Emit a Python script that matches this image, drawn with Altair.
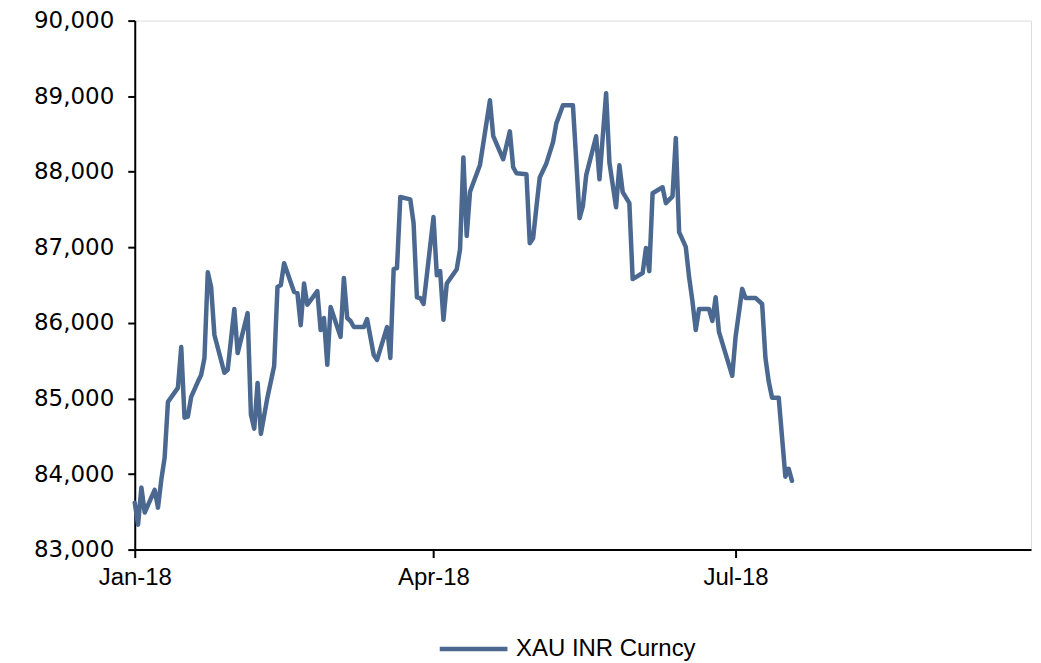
import altair as alt
import pandas as pd

dates = [
    "2018-01-01", "2018-01-02", "2018-01-03", "2018-01-04", "2018-01-07", "2018-01-08",
    "2018-01-09", "2018-01-10", "2018-01-11", "2018-01-14", "2018-01-15", "2018-01-16",
    "2018-01-17", "2018-01-18", "2018-01-20", "2018-01-21", "2018-01-22", "2018-01-23",
    "2018-01-24", "2018-01-25", "2018-01-28", "2018-01-29", "2018-01-31", "2018-02-01",
    "2018-02-04", "2018-02-05", "2018-02-06", "2018-02-07", "2018-02-08", "2018-02-10",
    "2018-02-12", "2018-02-13", "2018-02-14", "2018-02-15", "2018-02-18", "2018-02-19",
    "2018-02-20", "2018-02-21", "2018-02-22", "2018-02-25", "2018-02-26", "2018-02-27",
    "2018-02-28", "2018-03-01", "2018-03-04", "2018-03-05", "2018-03-06", "2018-03-07",
    "2018-03-08", "2018-03-11", "2018-03-12", "2018-03-14", "2018-03-15", "2018-03-18",
    "2018-03-19", "2018-03-20", "2018-03-21", "2018-03-22", "2018-03-25", "2018-03-26",
    "2018-03-27", "2018-03-28", "2018-03-29", "2018-04-01", "2018-04-02", "2018-04-03",
    "2018-04-04", "2018-04-05", "2018-04-08", "2018-04-09", "2018-04-10", "2018-04-11",
    "2018-04-12", "2018-04-15", "2018-04-18", "2018-04-19", "2018-04-22", "2018-04-24",
    "2018-04-25", "2018-04-26", "2018-04-29", "2018-04-30", "2018-05-01", "2018-05-02",
    "2018-05-03", "2018-05-05", "2018-05-07", "2018-05-08", "2018-05-10", "2018-05-13",
    "2018-05-14", "2018-05-15", "2018-05-16", "2018-05-17", "2018-05-20", "2018-05-21",
    "2018-05-23", "2018-05-24", "2018-05-26", "2018-05-27", "2018-05-28", "2018-05-30",
    "2018-05-31", "2018-06-03", "2018-06-04", "2018-06-05", "2018-06-06", "2018-06-09",
    "2018-06-10", "2018-06-12", "2018-06-13", "2018-06-14", "2018-06-16", "2018-06-17",
    "2018-06-18", "2018-06-19", "2018-06-20", "2018-06-23", "2018-06-24", "2018-06-25",
    "2018-06-26", "2018-06-30", "2018-07-01", "2018-07-03", "2018-07-04", "2018-07-07",
    "2018-07-09", "2018-07-10", "2018-07-11", "2018-07-12", "2018-07-14", "2018-07-16",
    "2018-07-17", "2018-07-18",
]

values = [
    83620, 83330, 83820, 83490, 83790, 83555,
    83925, 84215, 84955, 85140, 85680, 84745,
    84760, 85020, 85220, 85310, 85535, 86670,
    86475, 85840, 85340, 85380, 86185, 85600,
    86130, 84785, 84600, 85205, 84530, 85020,
    85430, 86475, 86500, 86790, 86410, 86395,
    85970, 86520, 86240, 86420, 85905, 86065,
    85445, 86210, 85815, 86595, 86065, 86025,
    85945, 85945, 86050, 85575, 85510, 85945,
    85535, 86710, 86725, 87665, 87635, 87320,
    86340, 86330, 86250, 87400, 86630, 86685,
    86040, 86520, 86710, 86975, 88190, 87150,
    87735, 88090, 88945, 88470, 88165, 88535,
    88060, 87980, 87967, 87055, 87120, 87530,
    87925, 88110, 88390, 88640, 88880, 88880,
    88150, 87385, 87545, 87955, 88470, 87900,
    89040, 88120, 87530, 88085, 87730, 87585,
    86580, 86660, 86990, 86685, 87715, 87795,
    87585, 87675, 88445, 87200, 87005, 86605,
    86290, 85905, 86185, 86185, 86025, 86340,
    85880, 85300, 85815, 86450, 86330, 86330,
    86250, 85535, 85220, 85010, 85010, 83965,
    84070, 83910,
]

series_name = "XAU INR Curncy"
x_tick_dates = ["2018-01-01", "2018-04-01", "2018-07-01"]
x_domain = ["2018-01-01", "2018-09-28"]
y_ticks = [83000, 84000, 85000, 86000, 87000, 88000, 89000, 90000]

df = pd.DataFrame({"date": dates, "value": values, "series": series_name})

line_color = "#4a6890"

x_tick_values = [
    alt.DateTime(year=int(d[:4]), month=int(d[5:7]), date=int(d[8:10])) for d in x_tick_dates
]

chart = (
    alt.Chart(df)
    .mark_line(strokeWidth=4.5, strokeJoin="round", strokeCap="round")
    .encode(
        x=alt.X(
            "date:T",
            scale=alt.Scale(domain=x_domain),
            axis=alt.Axis(
                title=None,
                values=x_tick_values,
                format="%b-%y",
                grid=False,
                domainColor="black",
                domainWidth=2,
                tickColor="black",
                tickWidth=2,
                tickSize=8,
                labelFont="Liberation Sans",
                labelFontSize=24,
                labelColor="black",
                labelPadding=8,
                labelFlush=False,
            ),
        ),
        y=alt.Y(
            "value:Q",
            scale=alt.Scale(domain=[83000, 90000], nice=False, zero=False),
            axis=alt.Axis(
                title=None,
                values=y_ticks,
                format=",d",
                grid=False,
                domainColor="black",
                domainWidth=2,
                tickColor="black",
                tickWidth=2,
                tickSize=7,
                labelFont="DejaVu Sans",
                labelFontSize=23,
                labelColor="black",
                labelPadding=14,
            ),
        ),
        color=alt.Color(
            "series:N",
            scale=alt.Scale(range=[line_color]),
            legend=alt.Legend(
                title=None,
                orient="none",
                legendX=303,
                legendY=593,
                symbolType="stroke",
                symbolSize=4600,
                symbolStrokeWidth=4.5,
                symbolStrokeColor=line_color,
                labelFont="Liberation Sans",
                labelFontSize=24,
                labelColor="black",
                labelOffset=6,
                labelLimit=400,
            ),
        ),
    )
    .properties(
        width=898,
        height=530,
        autosize=alt.AutoSizeParams(type="none"),
        padding={"left": 127, "top": 12, "right": 2, "bottom": 113},
    )
    .configure_view(stroke=None)
    .configure(background="white")
)

chart.save("out.html", embed_options={"renderer": "svg", "actions": False})
